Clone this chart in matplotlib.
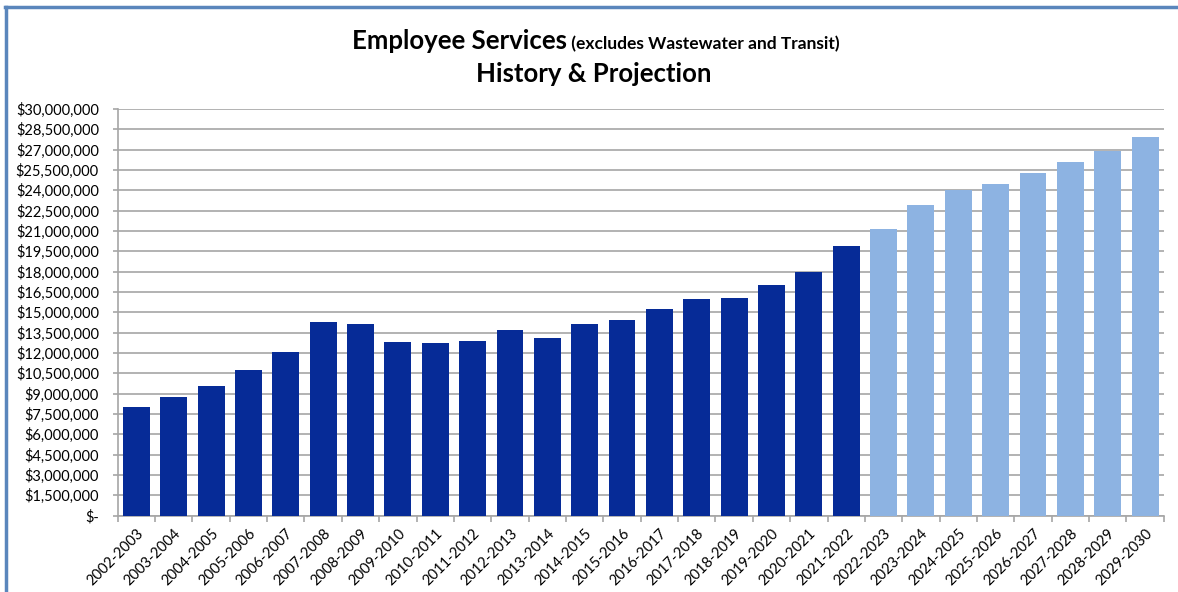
import matplotlib.pyplot as plt
import numpy as np
from matplotlib.lines import Line2D
from matplotlib.ticker import FuncFormatter, FixedLocator

# 数据（单位：百万美元）
history_years = ['2002-2003', '2003-2004', '2004-2005', '2005-2006', '2006-2007',
                 '2007-2008', '2008-2009', '2009-2010', '2010-2011', '2011-2012',
                 '2012-2013', '2013-2014', '2014-2015', '2015-2016', '2016-2017',
                 '2017-2018', '2018-2019', '2019-2020', '2020-2021', '2021-2022']
history_values = [8.00, 8.78, 9.57, 10.75, 12.03, 14.28, 14.13, 12.80, 12.73, 12.87,
                  13.71, 13.07, 14.13, 14.43, 15.26, 15.98, 16.05, 16.98, 17.97, 19.92]
projection_years = ['2022-2023', '2023-2024', '2024-2025', '2025-2026',
                    '2026-2027', '2027-2028', '2028-2029', '2029-2030']
projection_values = [21.12, 22.95, 24.01, 24.43, 25.24, 26.08, 26.87, 27.95]

plt.rcParams['font.family'] = ['Lato', 'DejaVu Sans']

fig = plt.figure(figsize=(11.78, 5.92), dpi=100)
ax = fig.add_axes([0.0999, 0.1292, 0.888, 0.6867])

years = history_years + projection_years
x_hist = np.arange(len(history_years))
x_proj = np.arange(len(history_years), len(years))

ax.bar(x_hist, np.array(history_values) * 1e6, width=0.72, color='#062B97', zorder=3)
ax.bar(x_proj, np.array(projection_values) * 1e6, width=0.72, color='#8DB3E2', zorder=3)

## 坐标轴设置
ax.set_xlim(-0.5, len(years) - 0.5)
ax.set_ylim(0, 30e6)
ax.set_yticks(np.arange(0, 30e6 + 1, 1.5e6))
ax.yaxis.set_major_formatter(FuncFormatter(lambda v, p: '$-' if v == 0 else f'${v:,.0f}'))
ax.grid(axis='y', color='#A6A6A6', linewidth=1.2, zorder=0)

ax.set_xticks(np.arange(len(years)))
ax.set_xticklabels(years, rotation=45, ha='right', rotation_mode='anchor', fontsize=10.5)
ax.tick_params(axis='x', which='major', length=0, pad=8)
ax.xaxis.set_minor_locator(FixedLocator(np.arange(-0.5, len(years), 1.0)))
ax.tick_params(axis='x', which='minor', length=4, color='#A6A6A6', width=1.2)
ax.tick_params(axis='y', length=3.5, color='#A6A6A6', width=1.2, pad=10, labelsize=10.5)

for s in ['top', 'right']:
    ax.spines[s].set_visible(False)
for s in ['left', 'bottom']:
    ax.spines[s].set_color('#A6A6A6')
    ax.spines[s].set_linewidth(1.2)

## 标题
fig.text(0.481, 0.917, 'Employee Services', ha='right', va='baseline',
         fontsize=18.5, fontweight='bold')
fig.text(0.481, 0.917, ' (excludes Wastewater and Transit)', ha='left', va='baseline',
         fontsize=12.5, fontweight='bold')
fig.text(0.504, 0.861, 'History & Projection', ha='center', va='baseline',
         fontsize=18.5, fontweight='bold')

## 外框
fig.add_artist(Line2D([5 / 1178, 1], [1 - 7 / 592, 1 - 7 / 592], color='#5A86BC', linewidth=2.5))
fig.add_artist(Line2D([6 / 1178, 6 / 1178], [0, 1 - 7 / 592], color='#5A86BC', linewidth=2.5))

fig.savefig('out.png', dpi=100)
